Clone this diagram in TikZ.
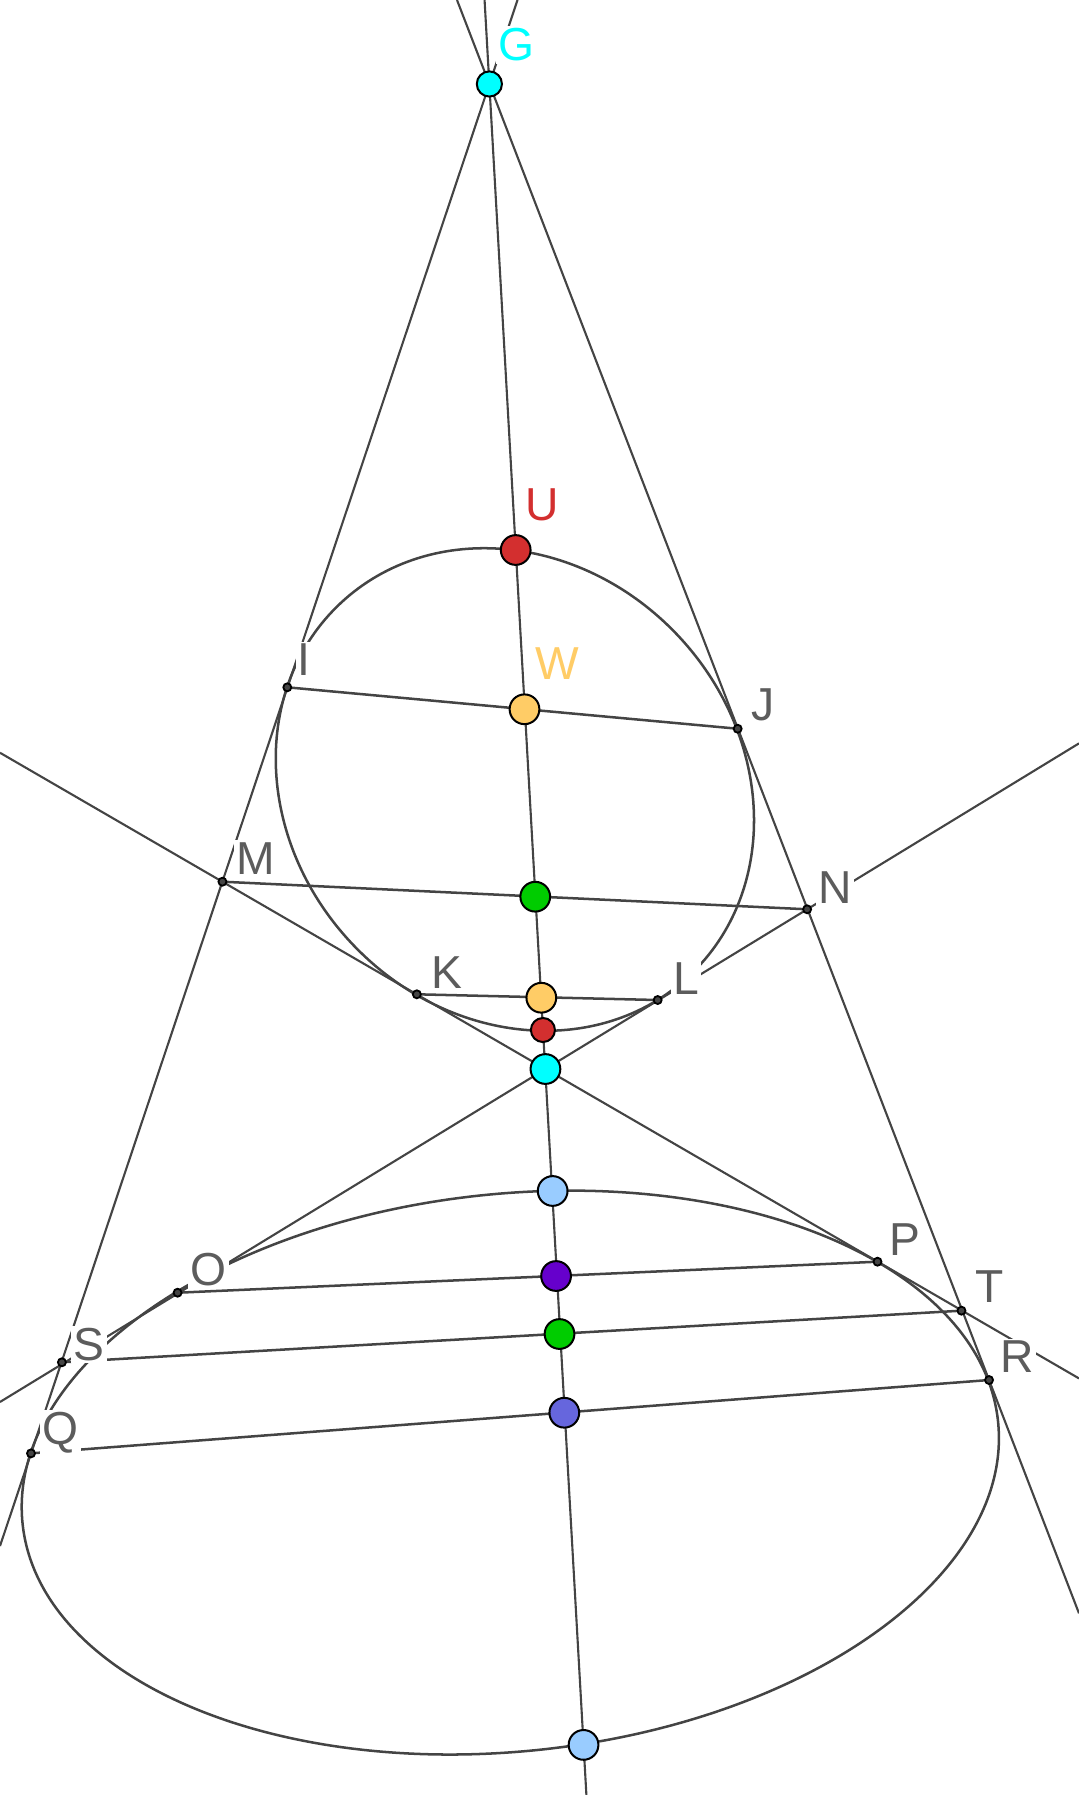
\documentclass[tikz,border=0pt]{standalone}
\usepackage{fontspec}
\setmainfont{Liberation Sans}
\usetikzlibrary{calc,backgrounds}
\definecolor{linegray}{HTML}{444444}
\definecolor{labelgray}{HTML}{5C5C5C}
\definecolor{ptred}{HTML}{D32F2F}
\definecolor{ptorange}{HTML}{FFCC66}
\definecolor{ptgreen}{HTML}{00CC00}
\definecolor{ptcyan}{HTML}{00FFFF}
\definecolor{ptblue}{HTML}{99CCFF}
\definecolor{ptpurple}{HTML}{6600CC}
\definecolor{ptviolet}{HTML}{6666DD}
\tikzset{
	ln/.style={draw=linegray, line width=1.05pt},
	chord/.style={draw=linegray, line width=1.25pt},
	conic/.style={draw=linegray, line width=1.25pt},
	bigpt/.style={circle, draw=black, line width=1pt, inner sep=0pt, minimum size=0.52cm},
	dotpt/.style={circle, draw=black, fill=linegray, line width=0.9pt, inner sep=0pt, minimum size=0.14cm},
	lbl/.style={fill=white, inner sep=1.2pt, text=labelgray, font=\fontsize{23}{23}\selectfont},
}

\begin{document}
\begin{tikzpicture}[x=0.02cm, y=-0.02cm]
			%%%%% START %%%%%
			\useasboundingbox (0,0) rectangle (943,1568.8);
			
			\coordinate (E1) at (450,690);
			\coordinate (E2) at (446,1287);
			
			\coordinate (lt) at (452.3,0);
			\coordinate (lb) at (0,1351.2);
			\coordinate (rt) at (399.4,0);
			\coordinate (rb) at (943,1410);
			\coordinate (axt) at (423.5,0);
			\coordinate (axb) at (512.5,1568.8);
			\coordinate (ml) at (0,657.9);
			\coordinate (mr) at (943,1204.7);
			\coordinate (nr) at (943,649.7);
			\coordinate (nl) at (0,1225.3);
			
			\node[bigpt, fill=ptcyan, minimum size=0.44cm] (G) at (427.7,73.4) {};
			\node[bigpt, fill=ptred] (U) at (450.7,480.7) {};
			\node[bigpt, fill=ptorange] (W) at (458.4,619.9) {};
			\node[dotpt] (I) at (251.1,600.7) {};
			\node[dotpt] (J) at (644.7,636.9) {};
			\node[dotpt] (M) at (194.4,770.6) {};
			\node[dotpt] (N) at (705.4,794.7) {};
			\node[bigpt, fill=ptgreen] (Vmn) at (467.8,783.7) {};
			\node[dotpt] (K) at (364.3,869) {};
			\node[dotpt] (L) at (574.8,874) {};
			\node[bigpt, fill=ptorange] (Vkl) at (473.1,872) {};
			\node[bigpt, fill=ptred, minimum size=0.42cm] (Ul) at (474.5,900.2) {};
			\node[bigpt, fill=ptcyan] (H) at (476.7,934.3) {};
			\node[bigpt, fill=ptblue] (Xt) at (483,1040.9) {};
			\node[dotpt] (O) at (155.2,1129.8) {};
			\node[dotpt] (P) at (766.9,1102.7) {};
			\node[bigpt, fill=ptpurple] (Vop) at (486,1115.2) {};
			\node[dotpt] (S) at (54.1,1190.6) {};
			\node[dotpt] (T) at (840.3,1145.5) {};
			\node[bigpt, fill=ptgreen] (Vst) at (489,1165.9) {};
			\node[dotpt] (Q) at (27.1,1270.2) {};
			\node[dotpt] (R) at (864.4,1206.1) {};
			\node[bigpt, fill=ptviolet] (Vqr) at (493.2,1234.7) {};
			\node[bigpt, fill=ptblue] (Xb) at (510,1525) {};
			
			\begin{pgfonlayer}{background}
			\draw[conic, rotate around={-47:(E1)}] (E1) ellipse [x radius=223, y radius=196];
			\draw[conic, rotate around={6:(E2)}] (E2) ellipse [x radius=428.6, y radius=243.6];
			
			\draw[ln] (lt) -- (lb);
			\draw[ln] (rt) -- (rb);
			\draw[ln] (axt) -- (axb);
			\draw[ln] (ml) -- (mr);
			\draw[ln] (nr) -- (nl);
			
			\draw[chord] (I.center) -- (J.center);
			\draw[chord] (M.center) -- (N.center);
			\draw[chord] (K.center) -- (L.center);
			\draw[chord] (O.center) -- (P.center);
			\draw[chord] (S.center) -- (T.center);
			\draw[chord] (Q.center) -- (R.center);
			\end{pgfonlayer}
			
			\node[lbl, text=ptcyan] (lG) at (451.3,39.3) {G};
			\node[lbl, text=ptred] (lU) at (474.2,441.3) {U};
			\node[lbl, text=ptorange] (lW) at (486.7,579.7) {W};
			\node[lbl] (lI) at (266,576.8) {I};
			\node[lbl] (lJ) at (666.5,616) {J};
			\node[lbl] (lM) at (223.7,750) {M};
			\node[lbl] (lN) at (730,775.7) {N};
			\node[lbl] (lK) at (390.7,850) {K};
			\node[lbl] (lL) at (599.5,855) {L};
			\node[lbl] (lO) at (182,1110) {O};
			\node[lbl] (lP) at (791,1083) {P};
			\node[lbl] (lT) at (864.6,1124.5) {T};
			\node[lbl] (lS) at (77.6,1175) {S};
			\node[lbl] (lR) at (888.6,1186) {R};
			\node[lbl] (lQ) at (52.6,1252) {Q};
			
			%%%%% END %%%%%
\end{tikzpicture}
\end{document}
